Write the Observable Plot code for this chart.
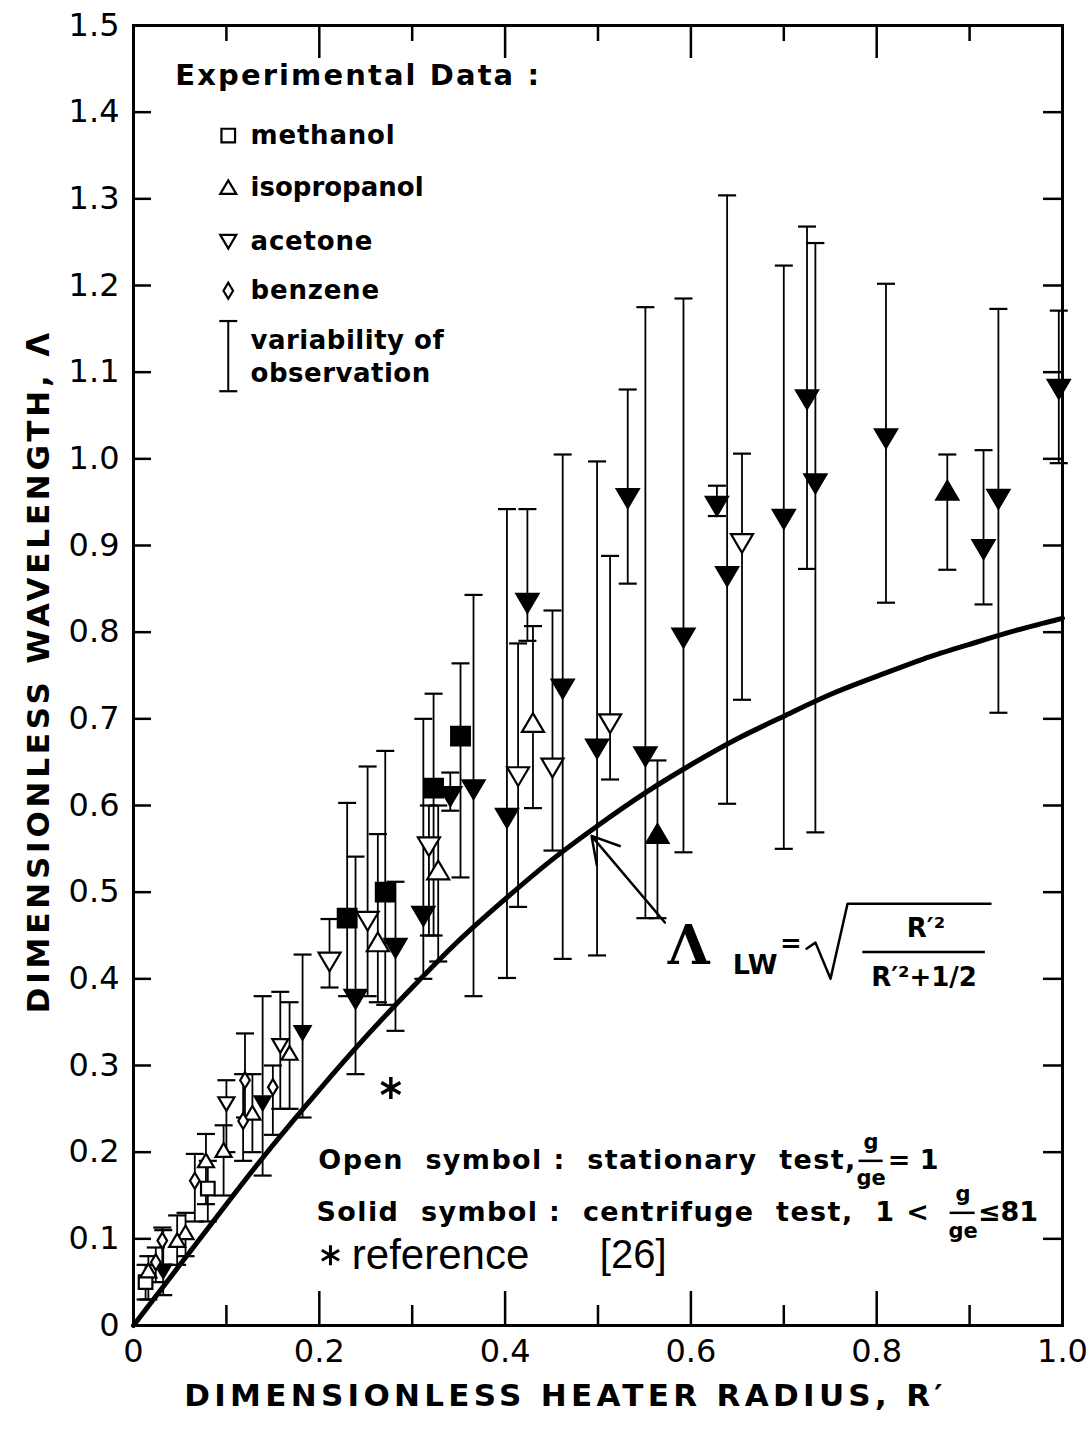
<!DOCTYPE html>
<html><head><meta charset="utf-8">
<script src="https://cdn.jsdelivr.net/npm/d3@7"></script>
<script src="https://cdn.jsdelivr.net/npm/@observablehq/plot@0.6"></script>
<style>body{margin:0;background:#fff} #chart svg{display:block}</style>
</head><body><div id="chart"></div>
<script>
// ---- data: [R', Λ, lower, upper] ----
const acetoneSolid = [
  [0.996,1.081,0.995,1.171],[0.931,0.954,0.707,1.173],[0.915,0.896,0.832,1.010],
  [0.810,1.024,0.834,1.202],[0.734,0.972,0.569,1.249],[0.725,1.069,0.873,1.268],
  [0.700,0.931,0.550,1.223],[0.639,0.865,0.602,1.304],[0.628,0.946,0.934,0.969],
  [0.592,0.794,0.546,1.185],[0.551,0.657,0.470,1.175],[0.532,0.955,0.856,1.080],
  [0.499,0.666,0.427,0.997],[0.462,0.735,0.423,1.005],[0.424,0.834,0.790,0.942],
  [0.402,0.586,0.401,0.942],[0.366,0.619,0.380,0.843],[0.341,0.611,0.594,0.638],
  [0.312,0.473,0.400,0.700],[0.282,0.436,0.340,0.512],[0.239,0.377,0.290,0.541],
  [0.182,0.338,0.240,0.428],[0.139,0.257,0.173,0.380],[0.032,0.063,0.035,0.110]
];
const acetoneOpen = [
  [0.655,0.903,0.722,1.006],[0.513,0.695,0.630,0.888],[0.451,0.644,0.548,0.825],
  [0.414,0.634,0.483,0.787],[0.318,0.553,0.450,0.600],[0.252,0.467,0.380,0.645],
  [0.211,0.420,0.390,0.469],[0.158,0.323,0.250,0.385],[0.100,0.256,0.200,0.283]
];
const methanolSolid = [
  [0.352,0.680,0.517,0.764],[0.323,0.620,0.450,0.729],[0.271,0.500,0.370,0.663],[0.230,0.470,0.380,0.603]
];
const methanolOpen = [
  [0.080,0.158,0.120,0.190],[0.013,0.050,0.030,0.070]
];
const isopropanolSolid = [
  [0.876,0.963,0.872,1.005],[0.564,0.567,0.470,0.652]
];
const isopropanolOpen = [
  [0.430,0.695,0.597,0.807],[0.328,0.525,0.420,0.600],[0.263,0.442,0.373,0.567],
  [0.168,0.314,0.250,0.373],[0.128,0.245,0.200,0.290],[0.097,0.202,0.150,0.231],
  [0.078,0.190,0.140,0.221],[0.056,0.107,0.080,0.130],[0.047,0.098,0.070,0.127],
  [0.016,0.063,0.030,0.080]
];
const benzeneOpen = [
  [0.150,0.275,0.220,0.300],[0.120,0.283,0.240,0.337],[0.118,0.236,0.190,0.290],
  [0.066,0.167,0.120,0.198],[0.031,0.098,0.070,0.113],[0.024,0.073,0.050,0.090]
];
const reference26 = [[0.277,0.274]];
// theoretical curve
const curveR = [0,0.05,0.1,0.15,0.2,0.25,0.3,0.35,0.4,0.45,0.5,0.55,0.6,0.65,0.7,0.75,0.8,0.85,0.9,0.95,1.0];
const curveL = [0,0.070,0.140,0.208,0.272,0.333,0.390,0.444,0.492,0.537,0.577,0.614,0.647,0.677,0.703,0.728,0.749,0.769,0.786,0.802,0.816];
const xTicks = [0,0.2,0.4,0.6,0.8,1.0];
const yTicks = [0,0.1,0.2,0.3,0.4,0.5,0.6,0.7,0.8,0.9,1.0,1.1,1.2,1.3,1.4,1.5];
const legendNames = ["methanol","isopropanol","acetone","benzene"];

// ---- symbols ----
const sym = fn => ({draw(c, size){ const r = Math.sqrt(size/Math.PI); fn(c, r); }});
const downTri = sym((c,r)=>{c.moveTo(-r,-0.8*r);c.lineTo(r,-0.8*r);c.lineTo(0,0.9*r);c.closePath();});
const upTri = sym((c,r)=>{c.moveTo(-r,0.8*r);c.lineTo(r,0.8*r);c.lineTo(0,-0.9*r);c.closePath();});
const square = sym((c,r)=>{c.rect(-0.85*r,-0.85*r,1.7*r,1.7*r);});
const diamond = sym((c,r)=>{c.moveTo(0,-r);c.lineTo(0.6*r,0);c.lineTo(0,r);c.lineTo(-0.6*r,0);c.closePath();});
const cap = sym((c,r)=>{c.moveTo(-r,0);c.lineTo(r,0);});
const aster = sym((c,r)=>{[90,30,150].forEach(a=>{const t=a*Math.PI/180;c.moveTo(Math.cos(t)*r,Math.sin(t)*r);c.lineTo(-Math.cos(t)*r,-Math.sin(t)*r);});});

const groups = [
  {data: acetoneSolid, symbol: downTri, fill: "black"},
  {data: acetoneOpen, symbol: downTri, fill: "white"},
  {data: methanolSolid, symbol: square, fill: "black"},
  {data: methanolOpen, symbol: square, fill: "white"},
  {data: isopropanolSolid, symbol: upTri, fill: "black"},
  {data: isopropanolOpen, symbol: upTri, fill: "white"},
  {data: benzeneOpen, symbol: diamond, fill: "white"}
];
const allPts = groups.flatMap(g => g.data);
const rSize = d => d[0] < 0.2 ? 8 : 11;

const FONT = "DejaVu Sans";
const fmt = d => d === 0 ? "0" : d.toFixed(1);

const marks = [];
// error bars
marks.push(Plot.ruleX(allPts, {x: d=>d[0], y1: d=>d[2], y2: d=>d[3], stroke: "black", strokeWidth: 1.8}));
marks.push(Plot.dot(allPts, {x: d=>d[0], y: d=>d[3], symbol: cap, r: 9, stroke: "black", strokeWidth: 2.2, fill: "none"}));
marks.push(Plot.dot(allPts, {x: d=>d[0], y: d=>d[2], symbol: cap, r: 9, stroke: "black", strokeWidth: 2.2, fill: "none"}));
// curve
marks.push(Plot.line(curveR.map((r,i)=>[r,curveL[i]]), {x: d=>d[0], y: d=>d[1], curve: "natural", stroke: "black", strokeWidth: 5}));
// symbols
for (const g of groups) {
  marks.push(Plot.dot(g.data, {x: d=>d[0], y: d=>d[1], symbol: g.symbol, r: rSize, fill: g.fill, stroke: "black", strokeWidth: 2.2}));
}
marks.push(Plot.dot(reference26, {x: d=>d[0], y: d=>d[1], symbol: aster, r: 11, stroke: "black", strokeWidth: 3.5, fill: "none"}));

// frame & axes
const tickFont = {fontSize: 32, fontFamily: FONT};
marks.push(Plot.frame({stroke: "black", strokeWidth: 3}));
marks.push(Plot.axisX({anchor: "bottom", ticks: xTicks, tickSize: 0, tickPadding: 14, tickFormat: fmt, label: null, ...tickFont}));
marks.push(Plot.axisX({anchor: "bottom", ticks: [0.2,0.4,0.6,0.8], tickSize: -34, tickFormat: () => "", strokeWidth: 2.5, label: null}));
marks.push(Plot.axisX({anchor: "bottom", ticks: [0.1,0.3,0.5,0.7,0.9], tickSize: -20, tickFormat: () => "", strokeWidth: 2.5, label: null}));
marks.push(Plot.axisX({anchor: "top", ticks: [0.2,0.4,0.6,0.8], tickSize: -32, tickFormat: () => "", strokeWidth: 2.5, label: null}));
marks.push(Plot.axisX({anchor: "top", ticks: [0.1,0.3,0.5,0.7,0.9], tickSize: -15, tickFormat: () => "", strokeWidth: 2.5, label: null}));
marks.push(Plot.axisY({anchor: "left", ticks: yTicks, tickSize: 0, tickPadding: 14, tickFormat: fmt, label: null, ...tickFont}));
marks.push(Plot.axisY({anchor: "left", ticks: yTicks.slice(1,-1), tickSize: -18, tickFormat: () => "", strokeWidth: 2.5, label: null}));
marks.push(Plot.axisY({anchor: "right", ticks: yTicks.slice(1,-1), tickSize: -20, tickFormat: () => "", strokeWidth: 2.5, label: null}));

// axis titles
const xTitle = "DIMENSIONLESS HEATER RADIUS, R′";
const yTitle = "DIMENSIONLESS WAVELENGTH, Λ";
marks.push(Plot.text([xTitle], {x: 0.465, y: -0.081, text: d=>d, fontSize: 31, fontFamily: FONT, fontWeight: "bold"}));
marks.push(Plot.text([yTitle], {x: -0.102, y: 0.755, text: d=>d, rotate: -90, fontSize: 31, fontFamily: FONT, fontWeight: "bold"}));

// legend
const legendY = [1.373, 1.313, 1.251, 1.194];
const legendSyms = [square, upTri, downTri, diamond];
const legendHead = "Experimental Data :";
marks.push(Plot.text([legendHead], {x: 0.045, y: 1.442, text: d=>d, textAnchor: "start", fontSize: 29, fontFamily: FONT, fontWeight: "bold"}));
legendNames.forEach((n,i)=>{
  marks.push(Plot.dot([n], {x: 0.102, y: legendY[i], symbol: legendSyms[i], r: 8, fill: "white", stroke: "black", strokeWidth: 2.2}));
  marks.push(Plot.text([n], {x: 0.126, y: legendY[i], text: d=>d, textAnchor: "start", fontSize: 26, fontFamily: FONT, fontWeight: "bold"}));
});
marks.push(Plot.ruleX([0.102], {x: d=>d, y1: 1.078, y2: 1.159, strokeWidth: 2}));
marks.push(Plot.dot([1.078, 1.159], {x: 0.102, y: d=>d, symbol: cap, r: 9, stroke: "black", strokeWidth: 2.2}));
marks.push(Plot.text(["variability of", "observation"], {x: 0.126, y: (d,i)=>i===0?1.136:1.098, text: d=>d, textAnchor: "start", fontSize: 26, fontFamily: FONT, fontWeight: "bold"}));

// notes
const note1 = "Open  symbol :  stationary  test,";
const note2 = "Solid  symbol :  centrifuge  test,  1 <";
const noteFont = {fontSize: 27, fontFamily: FONT, fontWeight: "bold", textAnchor: "start"};
const fracFont = {fontSize: 21, fontFamily: FONT, fontWeight: "bold"};
marks.push(Plot.text([note1], {x: 0.199, y: 0.190, text: d=>d, ...noteFont}));
marks.push(Plot.text(["g"], {x: 0.794, y: 0.211, text: d=>d, ...fracFont}));
marks.push(Plot.ruleY([0.190], {y: d=>d, x1: 0.781, x2: 0.807, strokeWidth: 2.5}));
marks.push(Plot.text(["ge"], {x: 0.794, y: 0.170, text: d=>d, ...fracFont}));
marks.push(Plot.text(["= 1"], {x: 0.812, y: 0.190, text: d=>d, ...noteFont}));
marks.push(Plot.text([note2], {x: 0.197, y: 0.130, text: d=>d, ...noteFont}));
marks.push(Plot.text(["g"], {x: 0.893, y: 0.152, text: d=>d, ...fracFont}));
marks.push(Plot.ruleY([0.130], {y: d=>d, x1: 0.879, x2: 0.906, strokeWidth: 2.5}));
marks.push(Plot.text(["ge"], {x: 0.893, y: 0.109, text: d=>d, ...fracFont}));
marks.push(Plot.text(["≤81"], {x: 0.909, y: 0.130, text: d=>d, ...noteFont}));
marks.push(Plot.dot([0], {x: 0.212, y: 0.081, symbol: aster, r: 10, stroke: "black", strokeWidth: 3, fill: "none"}));
marks.push(Plot.text(["reference"], {x: 0.235, y: 0.081, text: d=>d, fontSize: 42, fontFamily: "Liberation Sans", textAnchor: "start"}));
marks.push(Plot.text(["[26]"], {x: 0.502, y: 0.081, text: d=>d, fontSize: 40, fontFamily: "Liberation Sans Narrow, Liberation Sans", textAnchor: "start"}));

// formula annotation
marks.push(Plot.arrow([0], {x1: 0.572, y1: 0.465, x2: 0.493, y2: 0.565, stroke: "black", strokeWidth: 2.5, headLength: 18}));
marks.push(Plot.text(["Λ"], {x: 0.575, y: 0.437, text: d=>d, fontSize: 54, fontFamily: "DejaVu Serif", fontWeight: "bold", textAnchor: "start"}));
marks.push(Plot.text(["LW"], {x: 0.645, y: 0.416, text: d=>d, fontSize: 27, fontFamily: FONT, fontWeight: "bold", textAnchor: "start"}));
marks.push(Plot.text(["="], {x: 0.696, y: 0.440, text: d=>d, fontSize: 26, fontFamily: FONT, fontWeight: "bold", textAnchor: "start"}));
const radical = [[0.7244,0.4348],[0.7341,0.4418],[0.7503,0.400],[0.7686,0.4867],[0.9225,0.4867]];
marks.push(Plot.line(radical, {x: d=>d[0], y: d=>d[1], stroke: "black", strokeWidth: 2.5}));
marks.push(Plot.text(["R′²"], {x: 0.853, y: 0.458, text: d=>d, fontSize: 26, fontFamily: FONT, fontWeight: "bold"}));
marks.push(Plot.ruleY([0.431], {y: d=>d, x1: 0.785, x2: 0.917, strokeWidth: 2.5}));
marks.push(Plot.text(["R′²+1/2"], {x: 0.851, y: 0.401, text: d=>d, fontSize: 26, fontFamily: FONT, fontWeight: "bold"}));

const chart = Plot.plot({
  width: 1092, height: 1430,
  marginLeft: 133, marginRight: 30, marginTop: 25, marginBottom: 105,
  x: {domain: [0, 1], axis: null},
  y: {domain: [0, 1.5], axis: null},
  r: {type: "identity"},
  style: {background: "white", color: "black", overflow: "visible"},
  marks
});
document.getElementById("chart").appendChild(chart);
// letter spacing to match the wide lettering of the original
const spacing = new Map([
  [xTitle, 4.3], [yTitle, 3.8], [legendHead, 2.1], [note1, 1.4], [note2, 1.4],
  ["methanol", 0.8], ["isopropanol", 0], ["acetone", 0.8], ["benzene", 0.8],
  ["variability of", 0.5], ["observation", 0.5]
]);
d3.select(chart).selectAll("text").each(function() {
  const s = spacing.get(this.textContent);
  if (s) this.setAttribute("letter-spacing", s + "px");
});
</script></body></html>
